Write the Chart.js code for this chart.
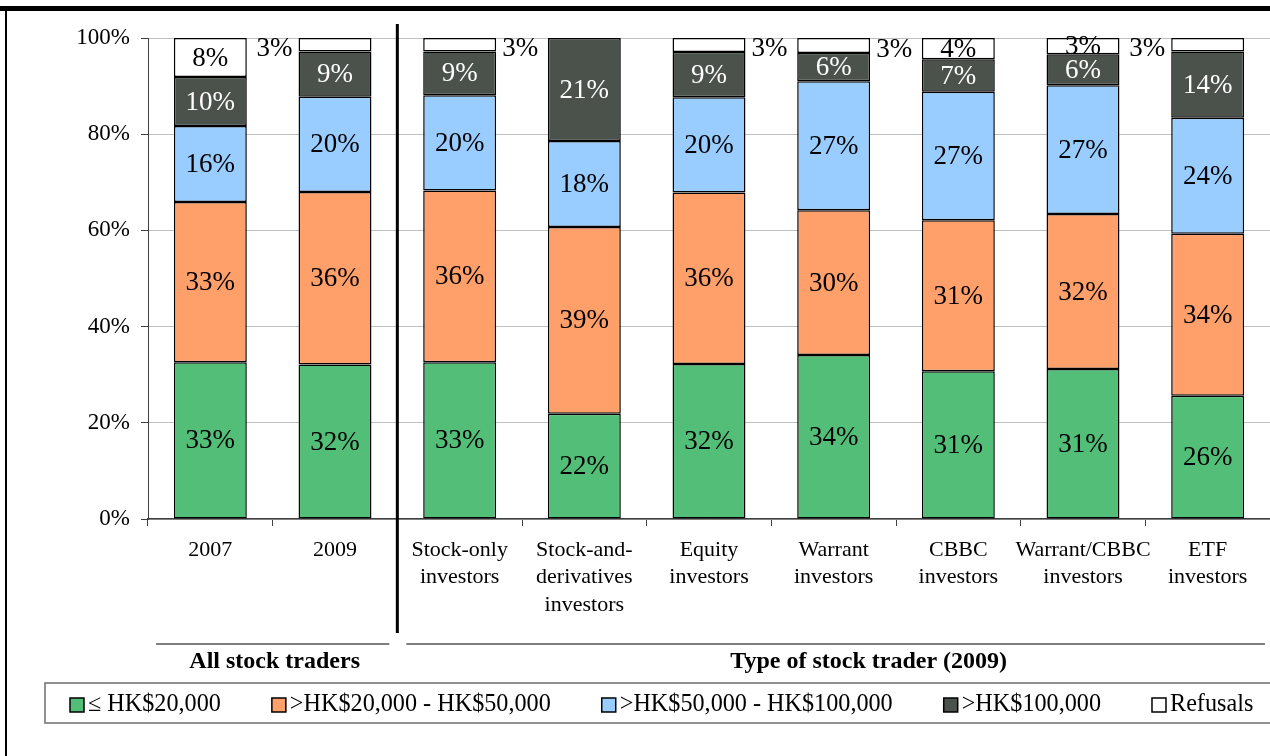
<!DOCTYPE html>
<html>
<head>
<meta charset="utf-8">
<script src="https://cdn.jsdelivr.net/npm/chart.js@4.4.1/dist/chart.umd.min.js"></script>
<style>
  html, body { margin: 0; padding: 0; background: #fff; overflow: hidden; }
  #wrap { position: relative; width: 1270px; height: 756px; }
</style>
</head>
<body>
<div id="wrap"><canvas id="chartIncome"></canvas></div>
<script>
// ── DATA ───────────────────────────────────────────
const categories = [
  ['2007'], ['2009'],
  ['Stock-only', 'investors'], ['Stock-and-', 'derivatives', 'investors'],
  ['Equity', 'investors'], ['Warrant', 'investors'], ['CBBC', 'investors'],
  ['Warrant/CBBC', 'investors'], ['ETF', 'investors']
];
const seriesNames = ['≤ HK$20,000', '>HK$20,000 - HK$50,000', '>HK$50,000 - HK$100,000', '>HK$100,000', 'Refusals'];
const upTo20k      = [32.6, 32.1, 32.6, 21.9, 32.2, 34.1, 30.7, 31.2, 25.6];
const from20to50k  = [33.3, 35.9, 35.7, 38.8, 35.7, 30.1, 31.4, 32.2, 33.7];
const from50to100k = [15.8, 19.8, 19.8, 17.9, 19.8, 26.8, 26.7, 26.8, 24.1];
const over100k     = [10.2,  9.4,  9.1, 21.4,  9.4,  5.9,  6.8,  6.4, 13.8];
const refusals     = [ 8.1,  2.8,  2.8,  0.0,  2.9,  3.1,  4.4,  3.4,  2.8];
const yTicks = [0, 20, 40, 60, 80, 100];
const groupNames = ['All stock traders', 'Type of stock trader (2009)'];
const groupRanges = [[0, 1], [2, 8]];

// ── STYLE ──────────────────────────────────────────
const FONT = '"Liberation Serif", "Times New Roman", serif';
const colors = ['#52be78', '#ff9f6a', '#99ccff', '#4b524c', '#ffffff'];
const labelColors = ['#000', '#000', '#000', '#fff', '#000'];
// where the refusals value sits: inside the segment or beside the bar
const refusalSide = ['in', 'left', 'right', 'in', 'right', 'right', 'in', 'in', 'left'];
const groupTextShift = [2, 33];

const seriesData = [upTo20k, from20to50k, from50to100k, over100k, refusals];

const valueLabels = {
  id: 'valueLabels',
  afterDatasetsDraw(chart) {
    const ctx = chart.ctx;
    ctx.save();
    ctx.font = '27px ' + FONT;
    ctx.textBaseline = 'middle';
    chart.data.datasets.forEach((ds, di) => {
      chart.getDatasetMeta(di).data.forEach((bar, i) => {
        const v = ds.data[i];
        if (!v) return;
        const txt = Math.round(v) + '%';
        const cy = (bar.y + bar.base) / 2;
        ctx.fillStyle = labelColors[di];
        if (di === 4 && refusalSide[i] !== 'in') {
          if (refusalSide[i] === 'left') {
            ctx.textAlign = 'right';
            ctx.fillText(txt, bar.x - bar.width / 2 - 6, cy + 4);
          } else {
            ctx.textAlign = 'left';
            ctx.fillText(txt, bar.x + bar.width / 2 + 6, cy + 4);
          }
        } else {
          ctx.textAlign = 'center';
          ctx.fillText(txt, bar.x, cy + 1);
        }
      });
    });
    ctx.restore();
  }
};

const decorations = {
  id: 'decorations',
  afterDraw(chart) {
    const ctx = chart.ctx;
    const xs = chart.scales.x;
    const area = chart.chartArea;
    ctx.save();

    // outer frame: heavy rule on top, thin edge on the left
    ctx.fillStyle = '#000';
    ctx.fillRect(0, 6, chart.width, 5);
    ctx.fillRect(5, 6, 2, chart.height);

    // divider between the two groups
    const divX = (xs.getPixelForValue(1) + xs.getPixelForValue(2)) / 2;
    ctx.fillRect(divX - 1.5, 24, 3, 633 - 24);

    // group underlines and captions
    ctx.strokeStyle = '#555';
    ctx.lineWidth = 1.5;
    ctx.font = 'bold 24px ' + FONT;
    ctx.textAlign = 'center';
    ctx.textBaseline = 'middle';
    ctx.fillStyle = '#000';
    groupRanges.forEach((r, gi) => {
      const x0 = gi === 0 ? area.left + 8 : divX + 9;
      const x1 = gi === groupRanges.length - 1 ? area.right - 5 : divX - 8;
      ctx.beginPath();
      ctx.moveTo(x0, 644);
      ctx.lineTo(x1, 644);
      ctx.stroke();
      ctx.fillText(groupNames[gi], (x0 + x1) / 2 + groupTextShift[gi], 662);
    });

    // legend
    ctx.strokeStyle = '#6e6e6e';
    ctx.lineWidth = 1.5;
    ctx.strokeRect(45, 683, chart.width + 20, 40);
    ctx.font = '24.2px ' + FONT;
    ctx.textAlign = 'left';
    let lx = 70;
    chart.data.datasets.forEach((ds, di) => {
      ctx.fillStyle = colors[di];
      ctx.fillRect(lx, 698, 14, 14);
      ctx.strokeStyle = '#000';
      ctx.lineWidth = 1.5;
      ctx.strokeRect(lx, 698, 14, 14);
      ctx.fillStyle = '#000';
      ctx.fillText(ds.label, lx + 18, 705);
      lx += 18 + ctx.measureText(ds.label).width + 51;
    });
    ctx.restore();
  }
};

new Chart(document.getElementById('chartIncome'), {
  type: 'bar',
  data: {
    labels: categories,
    datasets: seriesData.map((d, i) => ({
      label: seriesNames[i],
      data: d,
      backgroundColor: colors[i],
      borderColor: '#000',
      borderWidth: 1.5,
      borderSkipped: false,
      barPercentage: 0.585,
      categoryPercentage: 1
    }))
  },
  options: {
    responsive: true,
    maintainAspectRatio: false,
    animation: false,
    devicePixelRatio: 1,
    layout: { padding: { top: 38, left: 0, right: 0, bottom: 0 } },
    plugins: { legend: { display: false }, tooltip: { enabled: false } },
    scales: {
      x: {
        stacked: true,
        afterFit: s => { s.height = 237; },
        grid: { offset: true, drawOnChartArea: false, color: '#404040', tickLength: 7 },
        border: { color: '#404040', width: 1.5 },
        ticks: {
          color: '#000', autoSkip: false, maxRotation: 0, padding: 10,
          font: { family: FONT, size: 22, lineHeight: 1.25 }
        }
      },
      y: {
        stacked: true,
        min: 0, max: 100,
        afterFit: s => { s.width = 148; },
        afterBuildTicks: s => { s.ticks = yTicks.map(v => ({ value: v })); },
        grid: { color: '#c0c0c0', lineWidth: 1, tickColor: '#404040', tickLength: 7 },
        border: { color: '#404040', width: 1 },
        ticks: {
          color: '#000', padding: 11,
          font: { family: FONT, size: 23 },
          callback: v => v + '%'
        }
      }
    }
  },
  plugins: [valueLabels, decorations]
});
</script>
</body>
</html>
